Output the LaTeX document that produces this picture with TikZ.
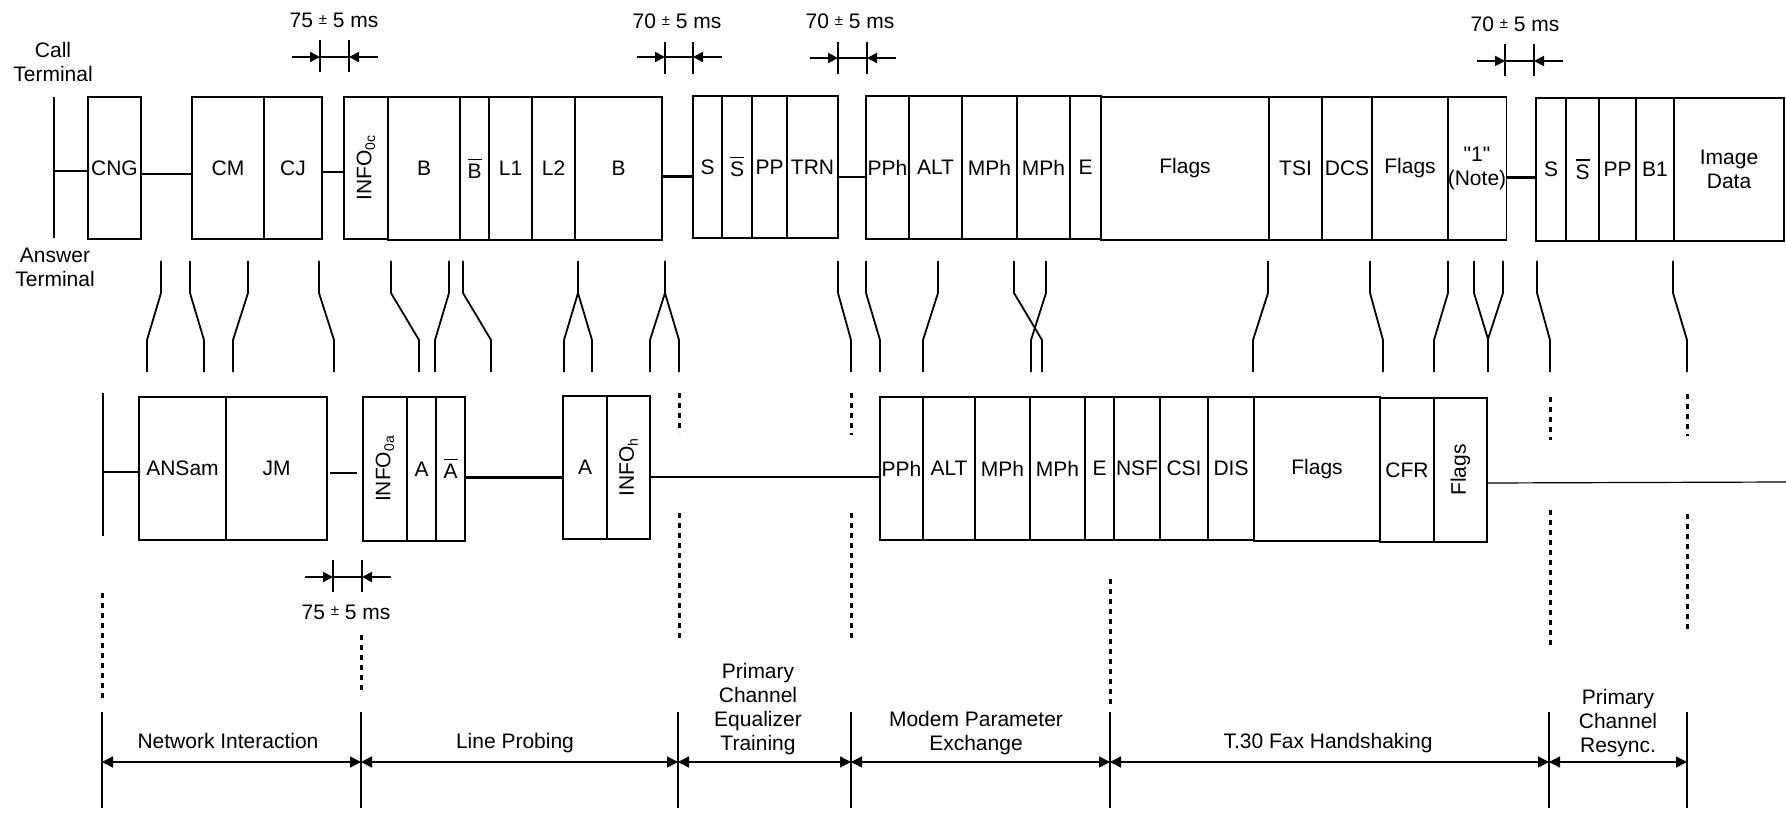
\documentclass[tikz,border=0pt]{standalone}
\usepackage{fontspec}
\setmainfont{Liberation Sans}
\newfontfamily\qfont{Liberation Sans}
\usepackage{graphicx}
\usetikzlibrary{arrows.meta,calc}
\newcommand\mysub[1]{\raisebox{-0.35ex}{\fontsize{14}{14}\selectfont #1}}
\newcommand\ovl[1]{\vbox{\hrule height 1.4pt\kern 4pt\hbox{#1}}}
\newcommand\myrot[1]{\rotatebox{90}{#1}}
\newcommand\pmx{\raisebox{0.35ex}{\fontsize{15}{15}\selectfont ±}}
\newcommand\mycell[6]{\node[cellbox, minimum width={(#3)-(#2)}, minimum height={(#5)-(#4)}] (#1) at ({((#2)+(#3))/2},{((#4)+(#5))/2}) {#6};}
\newcommand\zig[2]{\draw[zigln] (#1,261) -- (#1,293) -- (#2,340) -- (#2,372);}
\newcommand\dimmark[5]{%
  \draw[tickln] (#1,#3) -- (#1,#4);
  \draw[tickln] (#2,#3) -- (#2,#4);
  \draw[dimln,-{Triangle[length=10pt,width=10pt]}] ({#1-28},#5) -- (#1,#5);
  \draw[dimln,-{Triangle[length=10pt,width=10pt]}] ({#2+29},#5) -- (#2,#5);
  \draw[line width=1.2pt] (#1,#5) -- (#2,#5);}
\begin{document}
\begin{tikzpicture}[x=1pt,y=-1pt,font=\fontsize{21}{24}\selectfont,
  cellbox/.style={draw, line width=1.2pt, inner sep=0pt, align=center},
  thinln/.style={line width=1.2pt},
  thickln/.style={line width=2.4pt},
  zigln/.style={line width=1.8pt, line join=round},
  tickln/.style={line width=2.2pt},
  dimln/.style={line width=2pt},
  dotln/.style={line width=3pt, dash pattern=on 5pt off 5pt},
  phasearr/.style={line width=1.4pt, {Triangle[length=11pt,width=11pt]}-{Triangle[length=11pt,width=11pt]}},
  lbl/.style={inner sep=0pt, align=center}]
\fill[white] (0,0) rectangle (1786,813);
\useasboundingbox (0,0) rectangle (1786,813);

% terminal labels
\node[lbl] (callt) at (53,62) {Call\\Terminal};
\node[lbl] (anst) at (55,267) {Answer\\Terminal};

% ---------- top row (call terminal) ----------
\coordinate (ctA) at (54,97);
\coordinate (ctB) at (54,238);
\draw[thickln] (ctA) -- (ctB);
\mycell{cng}{88}{141}{97}{239}{CNG}
\mycell{cm}{192}{264}{97}{239}{CM}
\mycell{cj}{264}{322}{97}{239}{CJ}
\mycell{infoc}{344}{388}{97}{239}{\myrot{INFO\mysub{0c}}}
\mycell{bA}{388}{460}{97}{240}{B}
\mycell{bbar}{460}{489}{97}{240}{\ovl{B}}
\mycell{lone}{489}{532}{97}{240}{L1}
\mycell{ltwo}{532}{575}{97}{240}{L2}
\mycell{bB}{575}{662}{97}{240}{B}
\mycell{sA}{693}{722}{96}{238}{S}
\mycell{sbarA}{722}{752}{96}{238}{\ovl{S}}
\mycell{ppA}{752}{787}{96}{238}{PP}
\mycell{trn}{787}{838}{96}{238}{TRN}
\mycell{pphA}{866}{909}{96}{239}{PPh}
\mycell{altA}{909}{962}{96}{239}{ALT}
\mycell{mphA}{962}{1017}{96}{239}{MPh}
\mycell{mphB}{1017}{1070}{96}{239}{MPh}
\mycell{eA}{1070}{1101}{96}{239}{E}
\mycell{flagsA}{1101}{1269}{97}{240}{Flags}
\mycell{tsi}{1269}{1322}{97}{240}{TSI}
\mycell{dcs}{1322}{1372}{97}{240}{DCS}
\mycell{flagsB}{1372}{1448}{97}{240}{Flags}
\mycell{note}{1448}{1506}{97}{240}{{\qfont "1"}\\(Note)}
\mycell{sB}{1536}{1566}{98}{241}{S}
\mycell{sbarB}{1566}{1599}{98}{241}{\ovl{S}}
\mycell{ppB}{1599}{1636}{98}{241}{PP}
\mycell{bone}{1636}{1674}{98}{241}{B1}
\mycell{img}{1674}{1784}{98}{241}{Image\\Data}

\draw[thinln] ([yshift=-3pt]cng.west -| ctA) -- ([yshift=-3pt]cng.west);
\draw[thickln] ([yshift=-6pt]cng.east) -- ([yshift=-6pt]cm.west);
\draw[thickln] ([yshift=-4pt]cj.east) -- ([yshift=-4pt]infoc.west);
\draw[thickln] ([yshift=-8pt]bB.east) -- ([yshift=-8pt]bB.east -| sA.west);
\draw[thickln] ([yshift=-10pt]trn.east) -- ([yshift=-10pt]trn.east -| pphA.west);
\draw[thickln] ([yshift=-9pt]note.east) -- ([yshift=-9pt]note.east -| sB.west);

% ---------- bottom row (answer terminal) ----------
\coordinate (atA) at (103,393);
\coordinate (atB) at (103,536);
\draw[thickln] (atA) -- (atB);
\mycell{ansam}{139}{226}{397}{540}{ANSam}
\mycell{jm}{226}{327}{397}{540}{JM}
\mycell{infoa}{363}{407}{397}{541}{\myrot{INFO\mysub{0a}}}
\mycell{aA}{407}{436}{397}{541}{A}
\mycell{abar}{436}{465}{397}{541}{\ovl{A}}
\mycell{aB}{563}{607}{396}{539}{A}
\mycell{infoh}{607}{650}{396}{539}{\myrot{INFO\mysub{h}}}
\mycell{pphB}{880}{923}{397}{540}{PPh}
\mycell{altB}{923}{975}{397}{540}{ALT}
\mycell{mphC}{975}{1030}{397}{540}{MPh}
\mycell{mphD}{1030}{1085}{397}{540}{MPh}
\mycell{eB}{1085}{1114}{397}{540}{E}
\mycell{nsf}{1114}{1160}{397}{540}{NSF}
\mycell{csi}{1160}{1208}{397}{540}{CSI}
\mycell{dis}{1208}{1254}{397}{540}{DIS}
\mycell{flagsC}{1254}{1380}{397}{541}{Flags}
\mycell{cfr}{1380}{1434}{398}{542}{CFR}
\mycell{flagsD}{1434}{1487}{398}{542}{\myrot{Flags}}
\coordinate (rend) at (1786,482);

\draw[thinln] ([yshift=-3.5pt]ansam.west -| atA) -- ([yshift=-3.5pt]ansam.west);
\draw[thinln, shorten <=2pt, shorten >=5pt] ([yshift=-4.5pt]jm.east) -- ([yshift=-4.5pt]jm.east -| infoa.west);
\draw[thickln] ([yshift=-8.5pt]abar.east) -- ([yshift=-8.5pt]abar.east -| aB.west);
\draw[thinln] ([yshift=-9.5pt]infoh.east) -- ([yshift=-9.5pt]infoh.east -| pphB.west);
\draw[thinln] ([yshift=-13pt]flagsD.east) -- (rend);

% ---------- connectors between the rows ----------
\zig{161}{147}
\zig{190}{204}
\zig{248}{233}
\zig{319}{334}
\zig{391}{419}
\zig{449}{435}
\zig{463}{491}
\draw[zigln] (578,261) -- (578,293) -- (564,340) -- (564,372);
\draw[zigln] (578,293) -- (592,340) -- (592,372);
\draw[zigln] (665,261) -- (665,293) -- (650,340) -- (650,372);
\draw[zigln] (665,293) -- (679,340) -- (679,372);
\zig{838}{851}
\zig{866}{880}
\zig{938}{923}
\zig{1014}{1042}
\zig{1046}{1031}
\zig{1268}{1253}
\zig{1370}{1383}
\zig{1448}{1434}
\draw[zigln] (1474,261) -- (1474,293) -- (1488,339) -- (1488,372);
\draw[zigln] (1503,261) -- (1503,293) -- (1488,339);
\zig{1537}{1550}
\zig{1673}{1687}

% ---------- timing marks ----------
\dimmark{320}{349}{40}{72}{57}
\node[lbl, anchor=base] (tA) at (334,28) {75 \pmx{} 5 ms};
\dimmark{665}{693}{42}{74}{57}
\node[lbl, anchor=base] (tB) at (677,29) {70 \pmx{} 5 ms};
\dimmark{838}{867}{42}{74}{58}
\node[lbl, anchor=base] (tC) at (850,29) {70 \pmx{} 5 ms};
\dimmark{1505}{1534}{44}{76}{61}
\node[lbl, anchor=base] (tD) at (1515,32) {70 \pmx{} 5 ms};
\dimmark{333}{362}{560}{592}{577}
\node[lbl, anchor=base] (tE) at (346,619) {75 \pmx{} 5 ms};

% ---------- dotted guides ----------
\draw[dotln] (102,593) -- (102,702);
\draw[dotln] (361,635) -- (361,695);
\draw[dotln] (679,393) -- (679,433);
\draw[dotln] (679,513) -- (679,638);
\draw[dotln] (851,393) -- (851,435);
\draw[dotln] (851,513) -- (851,638);
\draw[dotln] (1110,579) -- (1110,705);
\draw[dotln] (1550,397) -- (1550,440);
\draw[dotln] (1550,510) -- (1550,647);
\draw[dotln] (1687,394) -- (1687,436);
\draw[dotln] (1687,514) -- (1687,632);

% ---------- phases ----------
\coordinate (pa0) at (102,762);
\coordinate (pa1) at (361,762);
\coordinate (pa2) at (678,762);
\coordinate (pa3) at (851,762);
\coordinate (pa4) at (1110,762);
\coordinate (pa5) at (1549,762);
\coordinate (pa6) at (1687,762);
\draw[thinln] ([yshift=50pt]pa0) -- ([yshift=-46pt]pa0);
\draw[tickln] ([yshift=50pt]pa1) -- ([yshift=-46pt]pa1);
\draw[tickln] ([yshift=50pt]pa2) -- ([yshift=-46pt]pa2);
\draw[thinln] ([yshift=50pt]pa3) -- ([yshift=-46pt]pa3);
\draw[thinln] ([yshift=50pt]pa4) -- ([yshift=-46pt]pa4);
\draw[tickln] ([yshift=50pt]pa5) -- ([yshift=-46pt]pa5);
\draw[tickln] ([yshift=50pt]pa6) -- ([yshift=-46pt]pa6);
\draw[phasearr] (pa0) -- (pa1);
\draw[phasearr] (pa1) -- (pa2);
\draw[phasearr] (pa2) -- (pa3);
\draw[phasearr] (pa3) -- (pa4);
\draw[phasearr] (pa4) -- (pa5);
\draw[phasearr] (pa5) -- (pa6);
\node[lbl, anchor=base] (ni) at (228,748) {Network Interaction};
\node[lbl, anchor=base] (lp) at (515,748) {Line Probing};
\node[lbl] (pcet) at (758,709) {Primary\\Channel\\Equalizer\\Training};
\node[lbl] (mpe) at (976,733) {Modem Parameter\\Exchange};
\node[lbl, anchor=base] (t30) at (1328,748) {T.30 Fax Handshaking};
\node[lbl] (pcr) at (1618,723) {Primary\\Channel\\Resync.};
\end{tikzpicture}
\end{document}
